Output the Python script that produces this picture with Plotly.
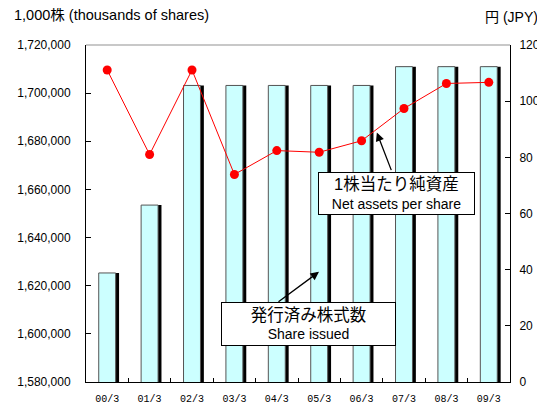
import plotly.graph_objects as go

# fiscal year ends (March)
years = ['00/3', '01/3', '02/3', '03/3', '04/3', '05/3', '06/3', '07/3', '08/3', '09/3']
# shares issued, thousands
shares_issued = [1625300, 1653500, 1703200, 1703200, 1703200, 1703200, 1703200,
                 1711000, 1711000, 1711000]
# net assets per share, JPY
net_assets = [111.1, 81.0, 111.1, 73.9, 82.4, 81.8, 85.9, 97.4, 106.3, 106.7]

left_ticks = [1580000, 1600000, 1620000, 1640000, 1660000, 1680000, 1700000, 1720000]
right_ticks = [0, 20, 40, 60, 80, 100, 120]

FONT = 'Liberation Sans, Noto Sans CJK JP, sans-serif'

fig = go.Figure()

# bar shadow
fig.add_trace(go.Bar(
    x=years, y=shares_issued,
    width=0.4, offset=-0.12,
    marker=dict(color='black', line=dict(width=0)),
    hoverinfo='skip', showlegend=False,
))
# bars
fig.add_trace(go.Bar(
    x=years, y=shares_issued,
    width=0.4, offset=-0.2,
    marker=dict(color='#CCFFFF', line=dict(color='#555555', width=1)),
    showlegend=False,
))
# net assets per share line
fig.add_trace(go.Scatter(
    x=years, y=net_assets, yaxis='y2',
    mode='lines+markers',
    line=dict(color='#FF0000', width=1),
    marker=dict(color='#FF0000', size=9),
    showlegend=False,
))

# page body has an 8px margin, so the figure is a bit smaller than the window
fig.update_layout(
    width=537, height=402,
    margin=dict(l=78, r=35, t=37, b=28),
    plot_bgcolor='white', paper_bgcolor='white',
    barmode='overlay',
    font=dict(family=FONT, size=12, color='black'),
    xaxis=dict(
        type='category', automargin=False,
        showline=True, linecolor='black', linewidth=1,
        ticks='inside', ticklen=4, tickcolor='black',
        tickson='boundaries',
        tickfont=dict(family='Liberation Mono, monospace', size=10),
        ticklabelstandoff=7,
        showgrid=False, range=[-0.5, 9.5],
    ),
    yaxis=dict(
        range=[1580000, 1720000], tickvals=left_ticks, automargin=False,
        tickformat=',d',
        showline=True, linecolor='black', linewidth=1,
        ticks='inside', ticklen=5, tickcolor='black',
        ticklabelstandoff=12,
        showgrid=False, zeroline=False,
    ),
    yaxis2=dict(
        overlaying='y', side='right', automargin=False,
        range=[0, 120], tickvals=right_ticks,
        showline=True, linecolor='black', linewidth=1,
        ticks='inside', ticklen=5, tickcolor='black',
        ticklabelstandoff=6,
        showgrid=False, zeroline=False,
    ),
    shapes=[dict(type='line', xref='paper', yref='paper', x0=0, x1=1, y0=1, y1=1,
                 line=dict(color='#C8C8C8', width=2))],
)

# axis unit titles
fig.add_annotation(text='1,000株 (thousands of shares)', xref='paper', yref='paper',
                   x=-74 / 424, y=1 + 30 / 337, xanchor='left', yanchor='middle',
                   showarrow=False, font=dict(size=14.5))
fig.add_annotation(text='円 (JPY)', xref='paper', yref='paper',
                   x=1 + 30 / 424, y=1 + 28 / 337, xanchor='right', yanchor='middle',
                   showarrow=False, font=dict(size=14))

# callout boxes
fig.add_annotation(
    text='<span style="font-size:16.5px">1株当たり純資産</span><br>Net assets per share',
    xref='paper', yref='paper', x=0.732, y=0.56, xanchor='center', yanchor='middle',
    showarrow=False,
    bgcolor='white', bordercolor='black', borderwidth=1, borderpad=1,
    width=153, height=39, font=dict(size=14),
)
fig.add_annotation(
    text='<span style="font-size:16.5px">発行済み株式数</span><br>Share issued',
    xref='paper', yref='paper', x=0.524, y=0.171, xanchor='center', yanchor='middle',
    showarrow=False,
    bgcolor='white', bordercolor='black', borderwidth=1, borderpad=1,
    width=171, height=40, font=dict(size=14),
)
# callout arrows
fig.add_annotation(text='', xref='paper', yref='paper', x=0.686, y=0.740,
                   ax=15, ay=39, showarrow=True, arrowhead=2, arrowsize=1.3,
                   arrowwidth=1.3, arrowcolor='black')
fig.add_annotation(text='', xref='paper', yref='paper', x=0.5495, y=0.327,
                   ax=-42, ay=31, showarrow=True, arrowhead=2, arrowsize=1.3,
                   arrowwidth=1.3, arrowcolor='black')

fig.write_html('out.html')
